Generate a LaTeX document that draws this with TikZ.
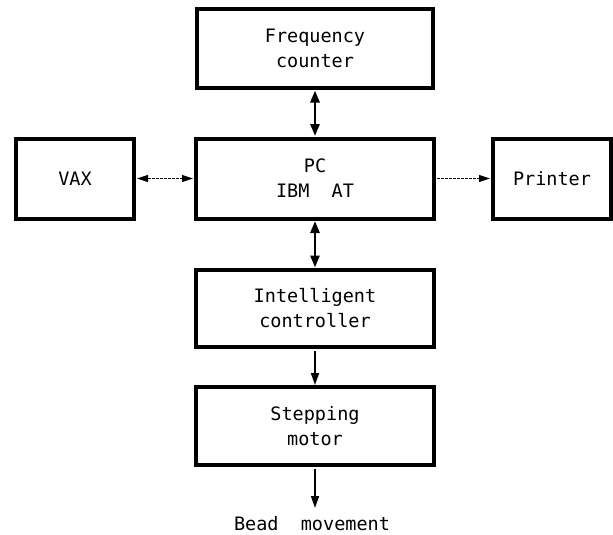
\documentclass[tikz,border=0pt]{standalone}
\usepackage{fontspec}
\newfontfamily\plotfont{DejaVu Sans Mono}
\usepackage{tikz}
\usetikzlibrary{arrows.meta}
\newcommand{\plotsize}{\plotfont\fontsize{18.5}{25}\selectfont}
\tikzstyle{unit} = [draw, line width=4pt, inner sep=0pt, minimum width=238pt, minimum height=79pt, align=center, font=\plotsize]
\tikzstyle{bus} = [line width=2.6pt, {Triangle[length=12pt,width=9pt]}-{Triangle[length=12pt,width=9pt]}, shorten <=0.5pt, shorten >=0.5pt]
\tikzstyle{link} = [line width=1pt, dash pattern=on 3pt off 1pt, shorten <=1pt, shorten >=1pt]
\tikzstyle{feed} = [line width=1.8pt, -{Triangle[length=12pt,width=8pt]}, shorten <=2pt]

\begin{document}
\begin{tikzpicture}[x=1pt,y=-1pt]
			\useasboundingbox (0,0) rectangle (613,535);
			\node[unit, minimum width=236pt] (freq) at (315,48.5) {Frequency\\counter};
			\node[unit, minimum height=80pt] (pc) at (315,178.5) {PC\\IBM\ \ AT};
			\node[unit, minimum width=118pt, minimum height=80pt] (vax) at (75,178.5) {VAX};
			\node[unit, minimum width=118pt, minimum height=80pt] (printer) at (552,178.5) {Printer};
			\node[unit, minimum height=77pt] (ctrl) at (315,308.5) {Intelligent\\controller};
			\node[unit, minimum height=78pt] (step) at (315,426) {Stepping\\motor};
			\node[font=\plotsize, inner sep=0pt] (bead) at (312,523.5) {Bead\ \ movement};
			\coordinate (tip) at (315,508);
			\draw[bus] (freq) -- (pc);
			\draw[bus] (pc) -- (ctrl);
			\draw[link, {Triangle[length=11pt,width=7pt]}-{Triangle[length=11pt,width=7pt]}] (vax) -- (pc);
			\draw[link, -{Triangle[length=11pt,width=7pt]}] (pc) -- (printer);
			\draw[feed] (ctrl) -- (step);
			\draw[feed, line width=1.4pt] (step) -- (tip);
		\end{tikzpicture}
\end{document}
